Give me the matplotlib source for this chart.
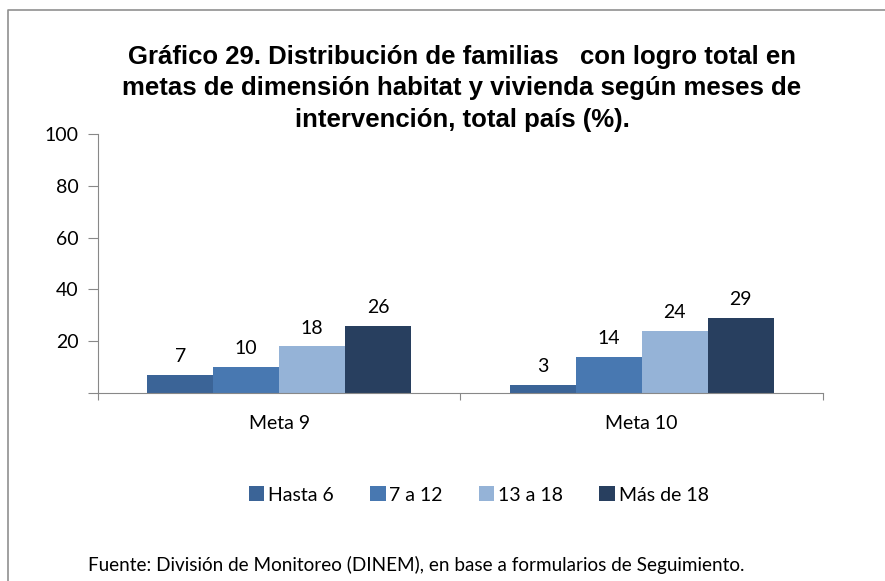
import matplotlib.pyplot as plt
import numpy as np
from matplotlib.lines import Line2D

metas = ["Meta 9", "Meta 10"]
series = ["Hasta 6", "7 a 12", "13 a 18", "Más de 18"]
hasta_6 = [7, 3]
de_7_a_12 = [10, 14]
de_13_a_18 = [18, 24]
mas_de_18 = [26, 29]
colores = ["#3B6497", "#4878B1", "#95B3D7", "#283F5F"]

titulo = ("Gráfico 29. Distribución de familias   con logro total en\n"
          "metas de dimensión habitat y vivienda según meses de\n"
          "intervención, total país (%).")
fuente = "Fuente: División de Monitoreo (DINEM), en base a formularios de Seguimiento."

fuente_txt = "Lato"

fig = plt.figure(figsize=(8.85, 5.81), dpi=100)
ax = fig.add_axes([0.1107, 0.3236, 0.8192, 0.4458])

x = np.arange(len(metas))
ancho = 0.182
valores = [hasta_6, de_7_a_12, de_13_a_18, mas_de_18]
for i, (nombre, vals) in enumerate(zip(series, valores)):
    pos = x + (i - 1.5) * ancho
    barras = ax.bar(pos, vals, ancho, color=colores[i], label=nombre,
                    edgecolor="none")
    for b, v in zip(barras, vals):
        ax.annotate(str(v), (b.get_x() + b.get_width() / 2, v),
                    xytext=(0, 7), textcoords="offset points",
                    ha="center", va="bottom", fontsize=14,
                    family=fuente_txt)

ax.set_xlim(-0.5, 1.5)
ax.set_ylim(0, 100)
ax.set_yticks([0, 20, 40, 60, 80, 100])
ax.set_yticklabels(["", "20", "40", "60", "80", "100"], fontsize=14,
                   family=fuente_txt)
ax.set_xticks([-0.5, 0.5, 1.5])
ax.set_xticklabels([])
ax.set_xticks(x, minor=True)
ax.set_xticklabels(metas, minor=True, fontsize=14, family=fuente_txt)
ax.tick_params(axis="x", which="minor", length=0, pad=16)
ax.tick_params(axis="x", which="major", length=5, color="#888888")
ax.tick_params(axis="y", length=7, color="#888888", pad=7)
for s in ["top", "right"]:
    ax.spines[s].set_visible(False)
for s in ["left", "bottom"]:
    ax.spines[s].set_color("#888888")

fig.text(0.522, 0.923, titulo, ha="center", va="top", fontsize=18.5,
         fontweight="bold", family="Liberation Sans", linespacing=1.4)

fig.legend(loc="center", bbox_to_anchor=(0.541, 0.148), ncol=4,
           frameon=False, prop={"family": fuente_txt, "size": 14},
           handlelength=0.8, handleheight=0.8, handletextpad=0.2,
           columnspacing=1.85)

fig.text(0.099, 0.027, fuente, ha="left", va="center", fontsize=13.6,
         family=fuente_txt)

fig.add_artist(Line2D([0.009, 0.009, 1.0], [0.0, 0.983, 0.983],
                      color="#909090", lw=1.2, transform=fig.transFigure))

fig.savefig("out.png", dpi=100)
